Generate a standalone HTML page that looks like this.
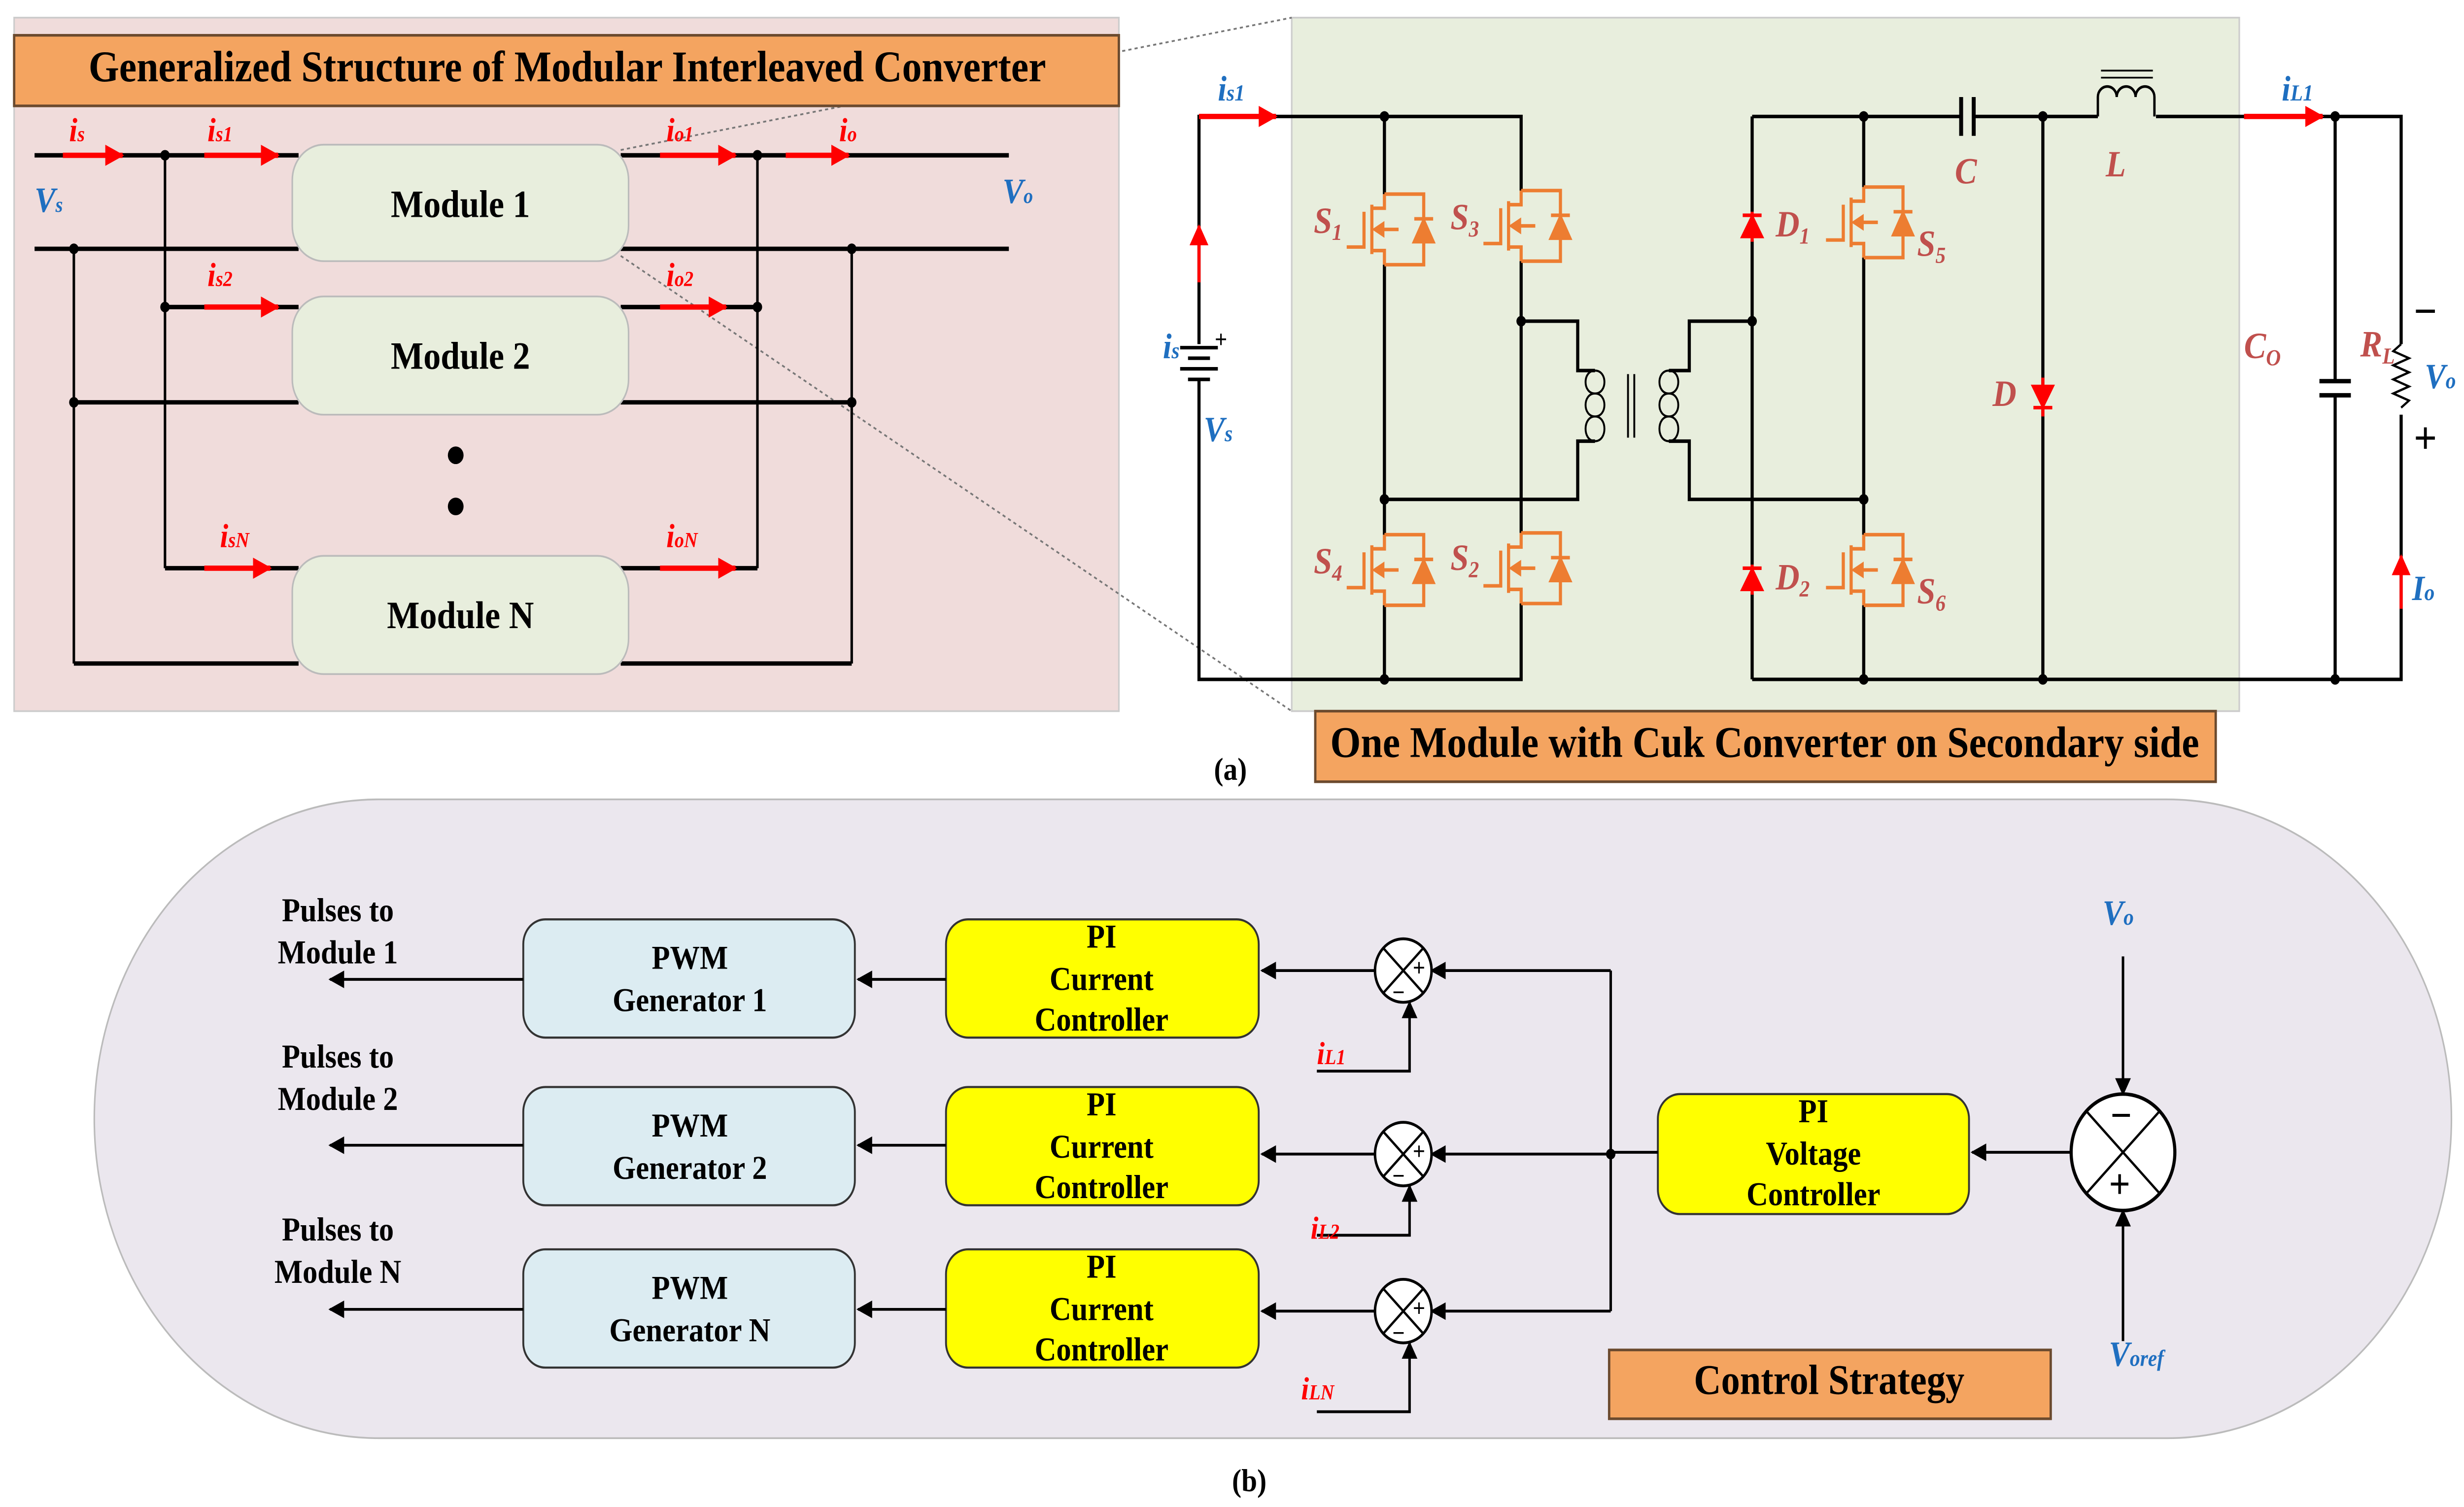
<!DOCTYPE html>
<html><head><meta charset="utf-8"><style>
html,body{margin:0;padding:0;background:#fff;width:100%;height:100%;overflow:hidden;}
svg{display:block;width:100vw;height:100vh;}
text{font-family:"Liberation Serif","Times New Roman",serif;}
.b{font-weight:bold;}
.lbl{font-style:italic;font-weight:bold;fill:#c0504d;}
.red{font-style:italic;font-weight:bold;fill:#ff0000;}
.blue{font-style:italic;font-weight:bold;fill:#1f6fc0;}
</style></head><body>
<svg viewBox="0 0 1568 854" preserveAspectRatio="none" font-family="Liberation Serif, serif" xmlns="http://www.w3.org/2000/svg">
<defs>
<marker id="ar" markerWidth="10" markerHeight="10" refX="9" refY="5" orient="auto" markerUnits="userSpaceOnUse"><path d="M0,0 L10,5 L0,10 z" fill="#000"/></marker>
<marker id="rr" markerWidth="12" markerHeight="12" refX="11" refY="6" orient="auto" markerUnits="userSpaceOnUse"><path d="M0,0 L12,6 L0,12 z" fill="#f00"/></marker>
<g id="mos" fill="none" stroke="#ed7d31" stroke-width="2">
<path d="M0,0 H25 V40 H0"/>
<path d="M0,0 V8 H-8 M0,40 V32 H-8 M-8,6 V34"/>
<path d="M-13,10 V30 H-24"/>
<path d="M9,20 H-6"/>
<path d="M-6,20 l5,-3 v6 z" fill="#ed7d31"/>
<path d="M19,14 H31"/>
<path d="M19,27 H31 L25,15 Z" fill="#ed7d31"/>
</g>
</defs>

<rect x="9" y="10" width="703" height="393" fill="#f0dcdb" stroke="#ccc"/>
<rect x="822" y="10" width="603" height="393" fill="#e8eedd" stroke="#ccc"/>
<line x1="395" y1="85" x2="822" y2="10" stroke="#777" stroke-dasharray="2,2" stroke-width="1"/>
<line x1="395" y1="145" x2="822" y2="403" stroke="#777" stroke-dasharray="2,2" stroke-width="1"/>
<rect x="9" y="20" width="703" height="40" fill="#f4a460" stroke="#6b4a2e" stroke-width="1.5"/>
<text x="361" y="46" text-anchor="middle" class="b" font-size="25">Generalized Structure of Modular Interleaved Converter</text>

<g stroke="#000" stroke-width="2.5" fill="none">
<line x1="22" y1="88" x2="190" y2="88"/><line x1="395" y1="88" x2="642" y2="88"/>
<line x1="22" y1="141" x2="190" y2="141"/><line x1="395" y1="141" x2="642" y2="141"/>
<line x1="105" y1="174" x2="190" y2="174"/><line x1="395" y1="174" x2="482" y2="174"/>
<line x1="47" y1="228" x2="190" y2="228"/><line x1="395" y1="228" x2="542" y2="228"/>
<line x1="105" y1="322" x2="190" y2="322"/><line x1="395" y1="322" x2="482" y2="322"/>
<line x1="47" y1="376" x2="190" y2="376"/><line x1="395" y1="376" x2="542" y2="376"/>
</g>
<g stroke="#000" stroke-width="1.6">
<line x1="105" y1="88" x2="105" y2="322"/><line x1="47" y1="141" x2="47" y2="376"/>
<line x1="482" y1="88" x2="482" y2="322"/><line x1="542" y1="141" x2="542" y2="376"/>
</g>
<g fill="#000"><circle cx="105" cy="88" r="3"/><circle cx="105" cy="174" r="3"/><circle cx="47" cy="141" r="3"/><circle cx="47" cy="228" r="3"/><circle cx="482" cy="88" r="3"/><circle cx="482" cy="174" r="3"/><circle cx="542" cy="141" r="3"/><circle cx="542" cy="228" r="3"/><circle cx="290" cy="258" r="5"/><circle cx="290" cy="287" r="5"/></g>
<g stroke="#f00" stroke-width="3" marker-end="url(#rr)">
<line x1="40" y1="88" x2="78" y2="88"/><line x1="130" y1="88" x2="177" y2="88"/>
<line x1="420" y1="88" x2="468" y2="88"/><line x1="500" y1="88" x2="540" y2="88"/>
<line x1="130" y1="174" x2="177" y2="174"/><line x1="420" y1="174" x2="462" y2="174"/>
<line x1="130" y1="322" x2="172" y2="322"/><line x1="420" y1="322" x2="468" y2="322"/>
</g>
<g fill="#e8eedd" stroke="#bbb" stroke-width="1">
<rect x="186" y="82" width="214" height="66" rx="20"/>
<rect x="186" y="168" width="214" height="67" rx="20"/>
<rect x="186" y="315" width="214" height="67" rx="20"/>
</g>
<g class="b" font-size="22" text-anchor="middle">
<text x="293" y="123">Module 1</text><text x="293" y="209">Module 2</text><text x="293" y="356">Module N</text>
</g>
<g class="red" font-size="19">
<text x="44" y="80">i<tspan font-size="12">s</tspan></text>
<text x="132" y="80">i<tspan font-size="12">s1</tspan></text>
<text x="424" y="80">i<tspan font-size="12">o1</tspan></text>
<text x="534" y="80">i<tspan font-size="12">o</tspan></text>
<text x="132" y="162">i<tspan font-size="12">s2</tspan></text>
<text x="424" y="162">i<tspan font-size="12">o2</tspan></text>
<text x="140" y="310">i<tspan font-size="12">sN</tspan></text>
<text x="424" y="310">i<tspan font-size="12">oN</tspan></text>
</g>
<g class="blue" font-size="20">
<text x="22" y="120">V<tspan font-size="12">s</tspan></text>
<text x="638" y="115">V<tspan font-size="12">o</tspan></text>
</g>

<g stroke="#000" stroke-width="2" fill="none">
<path d="M763,195 V66 H968 V108"/>
<path d="M763,215 V385 H968 V342"/>
<path d="M881,66 V110 M881,150 V303 M881,343 V385"/>
<path d="M968,148 V302"/>
<path d="M968,182 H1004 V210 H1015 M881,283 H1004 V250 H1015"/>
<path d="M1062,210 H1075 V182 H1115 M1062,250 H1075 V283 H1186"/>
<path d="M1115,66 V120 M1115,136 V320 M1115,336 V385"/>
<path d="M1115,66 H1248 M1256,66 H1335 M1372,66 H1528 V195 M1528,235 V385 H1115"/>
<path d="M1186,66 V106 M1186,146 V303 M1186,343 V385"/>
<path d="M1300,66 V218 M1300,232 V385"/>
<path d="M1486,66 V216 M1486,224 V385"/>
<path d="M1476,216 H1496 M1476,224 H1496" stroke-width="2.5"/>
<path d="M1248,55 V77 M1256,55 V77" stroke-width="2.5"/>
<path d="M1528,195 l-5,4 l10,4 l-10,4 l10,4 l-10,4 l10,4 l-10,4 l10,4 l-5,4" stroke-width="1.3"/>
</g>
<path d="M1335,66 V55 a6,6 0 0 1 12,0 a6,6 0 0 1 12,0 a6,6 0 0 1 12,0 V66" fill="none" stroke="#000" stroke-width="1.5"/>
<path d="M1337,40 H1370 M1337,44 H1370" stroke="#000" stroke-width="1"/>
<g fill="none" stroke="#000" stroke-width="1.2">
<path d="M1015,210 c8,0 8,13 0,13 c-8,0 -8,-13 0,-13 M1015,223 c8,0 8,13 0,13 c-8,0 -8,-13 0,-13 M1015,236 c8,0 8,14 0,14 c-8,0 -8,-14 0,-14"/>
<path d="M1062,210 c-8,0 -8,13 0,13 c8,0 8,-13 0,-13 M1062,223 c-8,0 -8,13 0,13 c8,0 8,-13 0,-13 M1062,236 c-8,0 -8,14 0,14 c8,0 8,-14 0,-14"/>
<path d="M1036,212 V248 M1040,212 V248"/>
</g>
<g fill="#000"><circle cx="881" cy="66" r="3"/><circle cx="881" cy="283" r="3"/><circle cx="881" cy="385" r="3"/><circle cx="968" cy="182" r="3"/><circle cx="1115" cy="182" r="3"/><circle cx="1186" cy="66" r="3"/><circle cx="1186" cy="283" r="3"/><circle cx="1186" cy="385" r="3"/><circle cx="1300" cy="66" r="3"/><circle cx="1300" cy="385" r="3"/><circle cx="1486" cy="66" r="3"/><circle cx="1486" cy="385" r="3"/></g>
<g stroke="#000" stroke-width="2"><line x1="751" y1="197" x2="775" y2="197"/><line x1="756" y1="203" x2="770" y2="203"/><line x1="751" y1="209" x2="775" y2="209"/><line x1="756" y1="215" x2="770" y2="215"/></g>
<text x="773" y="197" font-size="14" class="b">+</text>
<use href="#mos" x="881" y="110"/><use href="#mos" x="968" y="108"/>
<use href="#mos" x="881" y="303"/><use href="#mos" x="968" y="302"/>
<use href="#mos" x="1186" y="106"/><use href="#mos" x="1186" y="303"/>
<g fill="#f00" stroke="#f00" stroke-width="2">
<path d="M1115,120 V137 M1109,122 H1121"/><path d="M1109,134 H1121 L1115,123 Z"/>
<path d="M1115,320 V337 M1109,322 H1121"/><path d="M1109,334 H1121 L1115,323 Z"/>
<path d="M1300,214 V236 M1294,231 H1306"/><path d="M1294,219 H1306 L1300,230 Z"/>
</g>
<g stroke="#f00" stroke-width="3" marker-end="url(#rr)">
<line x1="763" y1="66" x2="812" y2="66"/><line x1="1428" y1="66" x2="1478" y2="66"/>
<line x1="763" y1="160" x2="763" y2="128" stroke-width="2"/>
<line x1="1528" y1="345" x2="1528" y2="315" stroke-width="2"/>
</g>
<g class="lbl" font-size="21">
<text x="836" y="132">S<tspan font-size="13" dy="4">1</tspan></text>
<text x="923" y="130">S<tspan font-size="13" dy="4">3</tspan></text>
<text x="836" y="325">S<tspan font-size="13" dy="4">4</tspan></text>
<text x="923" y="323">S<tspan font-size="13" dy="4">2</tspan></text>
<text x="1130" y="134">D<tspan font-size="13" dy="4">1</tspan></text>
<text x="1130" y="334">D<tspan font-size="13" dy="4">2</tspan></text>
<text x="1220" y="145">S<tspan font-size="13" dy="4">5</tspan></text>
<text x="1220" y="342">S<tspan font-size="13" dy="4">6</tspan></text>
<text x="1244" y="104">C</text>
<text x="1340" y="100">L</text>
<text x="1268" y="230">D</text>
<text x="1428" y="203">C<tspan font-size="13" dy="4">O</tspan></text>
<text x="1502" y="202">R<tspan font-size="13" dy="4">L</tspan></text>
</g>
<g class="blue" font-size="20">
<text x="775" y="57">i<tspan font-size="13">s1</tspan></text>
<text x="1452" y="57">i<tspan font-size="13">L1</tspan></text>
<text x="740" y="203">i<tspan font-size="13">s</tspan></text>
<text x="766" y="250">V<tspan font-size="13">s</tspan></text>
<text x="1543" y="220">V<tspan font-size="13">o</tspan></text>
<text x="1535" y="340">I<tspan font-size="13">o</tspan></text>
</g>
<text x="1536" y="185" font-size="26" class="b">−</text>
<text x="1536" y="257" font-size="26" class="b">+</text>
<rect x="837" y="403" width="573" height="40" fill="#f4a460" stroke="#6b4a2e" stroke-width="1.5"/>
<text x="1123" y="429" text-anchor="middle" class="b" font-size="25">One Module with Cuk Converter on Secondary side</text>
<text x="783" y="442" text-anchor="middle" class="b" font-size="18">(a)</text>

<rect x="60" y="453" width="1500" height="362" rx="181" fill="#ebe7ee" stroke="#bbb" stroke-width="1"/>
<g fill="#dcecf2" stroke="#333" stroke-width="1.2">
<rect x="333" y="521" width="211" height="67" rx="14"/><rect x="333" y="616" width="211" height="67" rx="14"/><rect x="333" y="708" width="211" height="67" rx="14"/>
</g>
<g fill="#ffff00" stroke="#333" stroke-width="1.2">
<rect x="602" y="521" width="199" height="67" rx="14"/><rect x="602" y="616" width="199" height="67" rx="14"/><rect x="602" y="708" width="199" height="67" rx="14"/>
<rect x="1055" y="620" width="198" height="68" rx="14"/>
</g>
<g class="b" font-size="19" text-anchor="middle">
<text x="439" y="549">PWM</text><text x="439" y="573">Generator 1</text>
<text x="439" y="644">PWM</text><text x="439" y="668">Generator 2</text>
<text x="439" y="736">PWM</text><text x="439" y="760">Generator N</text>
<text x="701" y="537">PI</text><text x="701" y="561">Current</text><text x="701" y="584">Controller</text>
<text x="701" y="632">PI</text><text x="701" y="656">Current</text><text x="701" y="679">Controller</text>
<text x="701" y="724">PI</text><text x="701" y="748">Current</text><text x="701" y="771">Controller</text>
<text x="1154" y="636">PI</text><text x="1154" y="660">Voltage</text><text x="1154" y="683">Controller</text>
<text x="215" y="522">Pulses to</text><text x="215" y="546">Module 1</text>
<text x="215" y="605">Pulses to</text><text x="215" y="629">Module 2</text>
<text x="215" y="703">Pulses to</text><text x="215" y="727">Module N</text>
</g>
<g stroke="#000" stroke-width="1.6" fill="none" marker-end="url(#ar)">
<line x1="333" y1="555" x2="210" y2="555"/><line x1="333" y1="649" x2="210" y2="649"/><line x1="333" y1="742" x2="210" y2="742"/>
<line x1="602" y1="555" x2="546" y2="555"/><line x1="602" y1="649" x2="546" y2="649"/><line x1="602" y1="742" x2="546" y2="742"/>
<line x1="875" y1="550" x2="803" y2="550"/><line x1="875" y1="654" x2="803" y2="654"/><line x1="875" y1="743" x2="803" y2="743"/>
<path d="M1025,550 H911"/><path d="M1025,654 H911"/><path d="M1025,743 H911"/>
<path d="M838,607 H897 V568"/><path d="M838,700 H897 V672"/><path d="M838,800 H897 V761"/>
<line x1="1318" y1="653" x2="1255" y2="653"/>
<line x1="1351" y1="542" x2="1351" y2="620"/><line x1="1351" y1="760" x2="1351" y2="686"/>
</g>
<g stroke="#000" stroke-width="1.6"><line x1="1055" y1="653" x2="1025" y2="653"/><line x1="1025" y1="550" x2="1025" y2="743"/></g>
<circle cx="1025" cy="654" r="3" fill="#000"/>
<g fill="#fff" stroke="#000" stroke-width="1.6">
<circle cx="893" cy="550" r="18"/><circle cx="893" cy="654" r="18"/><circle cx="893" cy="743" r="18"/>
<circle cx="1351" cy="653" r="33" stroke-width="2"/>
</g>
<g stroke="#000" stroke-width="1.4">
<path d="M880,537 L906,563 M906,537 L880,563"/><path d="M880,641 L906,667 M906,641 L880,667"/><path d="M880,730 L906,756 M906,730 L880,756"/>
<path d="M1328,630 L1374,676 M1374,630 L1328,676"/>
</g>
<g class="b" font-size="14"><text x="899" y="553">+</text><text x="899" y="657">+</text><text x="899" y="746">+</text><text x="886" y="567">−</text><text x="886" y="671">−</text><text x="886" y="760">−</text></g>
<text x="1343" y="640" font-size="24" class="b">−</text><text x="1342" y="679" font-size="24" class="b">+</text>
<g class="red" font-size="18">
<text x="838" y="603">i<tspan font-size="12">L1</tspan></text>
<text x="834" y="702">i<tspan font-size="12">L2</tspan></text>
<text x="828" y="793">i<tspan font-size="12">LN</tspan></text>
</g>
<g class="blue" font-size="20">
<text x="1338" y="524">V<tspan font-size="13">o</tspan></text>
<text x="1342" y="774">V<tspan font-size="13">oref</tspan></text>
</g>
<rect x="1024" y="765" width="281" height="39" fill="#f4a460" stroke="#6b4a2e" stroke-width="1.5"/>
<text x="1164" y="790" text-anchor="middle" class="b" font-size="24">Control  Strategy</text>
<text x="795" y="845" text-anchor="middle" class="b" font-size="18">(b)</text>
</svg>
</body></html>
